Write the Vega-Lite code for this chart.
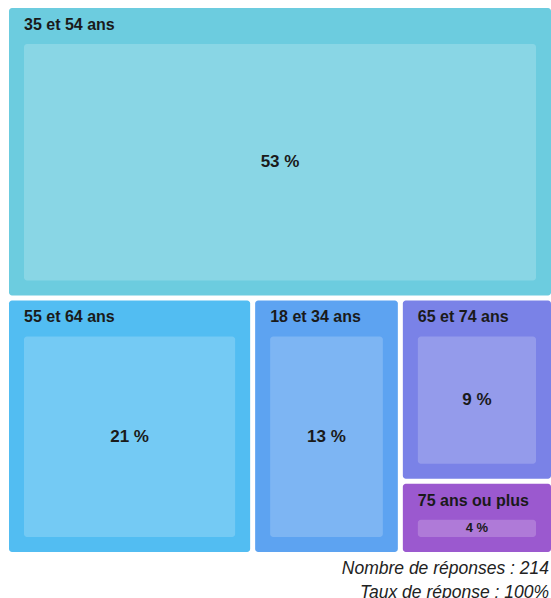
{
  "$schema": "https://vega.github.io/schema/vega-lite/v6.json",
  "autosize": "none",
  "width": 544.5,
  "height": 549,
  "padding": {"left": 6.5, "top": 5.5, "right": 0, "bottom": 43.5},
  "background": "white",
  "config": {"view": {"stroke": null}},
  "title": {
    "text": ["Nombre de réponses : 214", "Taux de réponse : 100%"],
    "orient": "bottom",
    "anchor": "end",
    "font": "Liberation Sans",
    "fontSize": 17.5,
    "fontStyle": "italic",
    "fontWeight": "normal",
    "color": "#222222",
    "lineHeight": 24,
    "offset": 5,
    "dx": -2
  },
  "data": {
    "values": [
      {"label": "35 et 54 ans", "n": 114, "pct": 53, "band": 1, "col": 1, "order": 1},
      {"label": "55 et 64 ans", "n": 45, "pct": 21, "band": 2, "col": 1, "order": 1},
      {"label": "18 et 34 ans", "n": 27, "pct": 13, "band": 2, "col": 2, "order": 1},
      {"label": "65 et 74 ans", "n": 20, "pct": 9, "band": 2, "col": 3, "order": 1},
      {"label": "75 ans ou plus", "n": 8, "pct": 4, "band": 2, "col": 3, "order": 2}
    ]
  },
  "transform": [
    {"joinaggregate": [{"op": "sum", "field": "n", "as": "total"}]},
    {"joinaggregate": [{"op": "sum", "field": "n", "as": "bandTotal"}], "groupby": ["band"]},
    {"window": [{"op": "sum", "field": "n", "as": "bandEnd"}], "sort": [{"field": "band", "order": "ascending"}], "frame": [null, 0], "ignorePeers": false},
    {"joinaggregate": [{"op": "sum", "field": "n", "as": "colTotal"}], "groupby": ["band", "col"]},
    {"window": [{"op": "sum", "field": "n", "as": "colEnd"}], "groupby": ["band"], "sort": [{"field": "col", "order": "ascending"}], "frame": [null, 0], "ignorePeers": false},
    {"window": [{"op": "sum", "field": "n", "as": "cellEnd"}], "groupby": ["band", "col"], "sort": [{"field": "order", "order": "ascending"}], "frame": [null, 0], "ignorePeers": false},
    {"calculate": "(datum.colEnd - datum.colTotal) / datum.bandTotal", "as": "x0"},
    {"calculate": "datum.colEnd / datum.bandTotal", "as": "x1"},
    {"calculate": "(datum.bandEnd - datum.bandTotal + (datum.cellEnd - datum.n) / datum.colTotal * datum.bandTotal) / datum.total", "as": "y0"},
    {"calculate": "(datum.bandEnd - datum.bandTotal + datum.cellEnd / datum.colTotal * datum.bandTotal) / datum.total", "as": "y1"},
    {"calculate": "(datum.x0 + datum.x1) / 2", "as": "xm"},
    {"calculate": "(datum.y0 + datum.y1) / 2", "as": "ym"},
    {"calculate": "datum.pct + ' %'", "as": "pctLabel"}
  ],
  "layer": [
    {
      "mark": {"type": "rect", "cornerRadius": 3, "xOffset": 2.5, "x2Offset": -2.5, "yOffset": 2.5, "y2Offset": -2.5},
      "encoding": {
        "x": {"field": "x0", "type": "quantitative", "scale": {"domain": [0, 1], "range": [0, 547], "nice": false, "zero": false}, "axis": null},
        "x2": {"field": "x1"},
        "y": {"field": "y0", "type": "quantitative", "scale": {"domain": [0, 1], "reverse": true, "nice": false, "zero": false}, "axis": null},
        "y2": {"field": "y1"},
        "color": {
          "field": "label",
          "type": "nominal",
          "scale": {
            "domain": ["35 et 54 ans", "55 et 64 ans", "18 et 34 ans", "65 et 74 ans", "75 ans ou plus"],
            "range": ["#6CCCDF", "#52BDF2", "#5DA3F1", "#7A82E7", "#9B59CF"]
          },
          "legend": null
        }
      }
    },
    {
      "mark": {"type": "rect", "cornerRadius": 3, "fill": "white", "fillOpacity": 0.2, "xOffset": 17.5, "x2Offset": -17.5, "yOffset": 38.5, "y2Offset": -17.5},
      "encoding": {
        "x": {"field": "x0", "type": "quantitative"},
        "x2": {"field": "x1"},
        "y": {"field": "y0", "type": "quantitative"},
        "y2": {"field": "y1"}
      }
    },
    {
      "mark": {"type": "text", "align": "left", "baseline": "alphabetic", "dx": 17.5, "dy": 24.5, "font": "Liberation Sans", "fontSize": 16, "fontWeight": "bold", "color": "#1a1a1a"},
      "encoding": {
        "x": {"field": "x0", "type": "quantitative"},
        "y": {"field": "y0", "type": "quantitative"},
        "text": {"field": "label", "type": "nominal"}
      }
    },
    {
      "mark": {"type": "text", "align": "center", "baseline": "middle", "dy": 10.5, "font": "Liberation Sans", "fontWeight": "bold", "color": "#1a1a1a"},
      "encoding": {
        "x": {"field": "xm", "type": "quantitative"},
        "y": {"field": "ym", "type": "quantitative"},
        "text": {"field": "pctLabel", "type": "nominal"},
        "size": {"condition": {"test": "datum.pct < 5", "value": 13}, "value": 17}
      }
    }
  ]
}
